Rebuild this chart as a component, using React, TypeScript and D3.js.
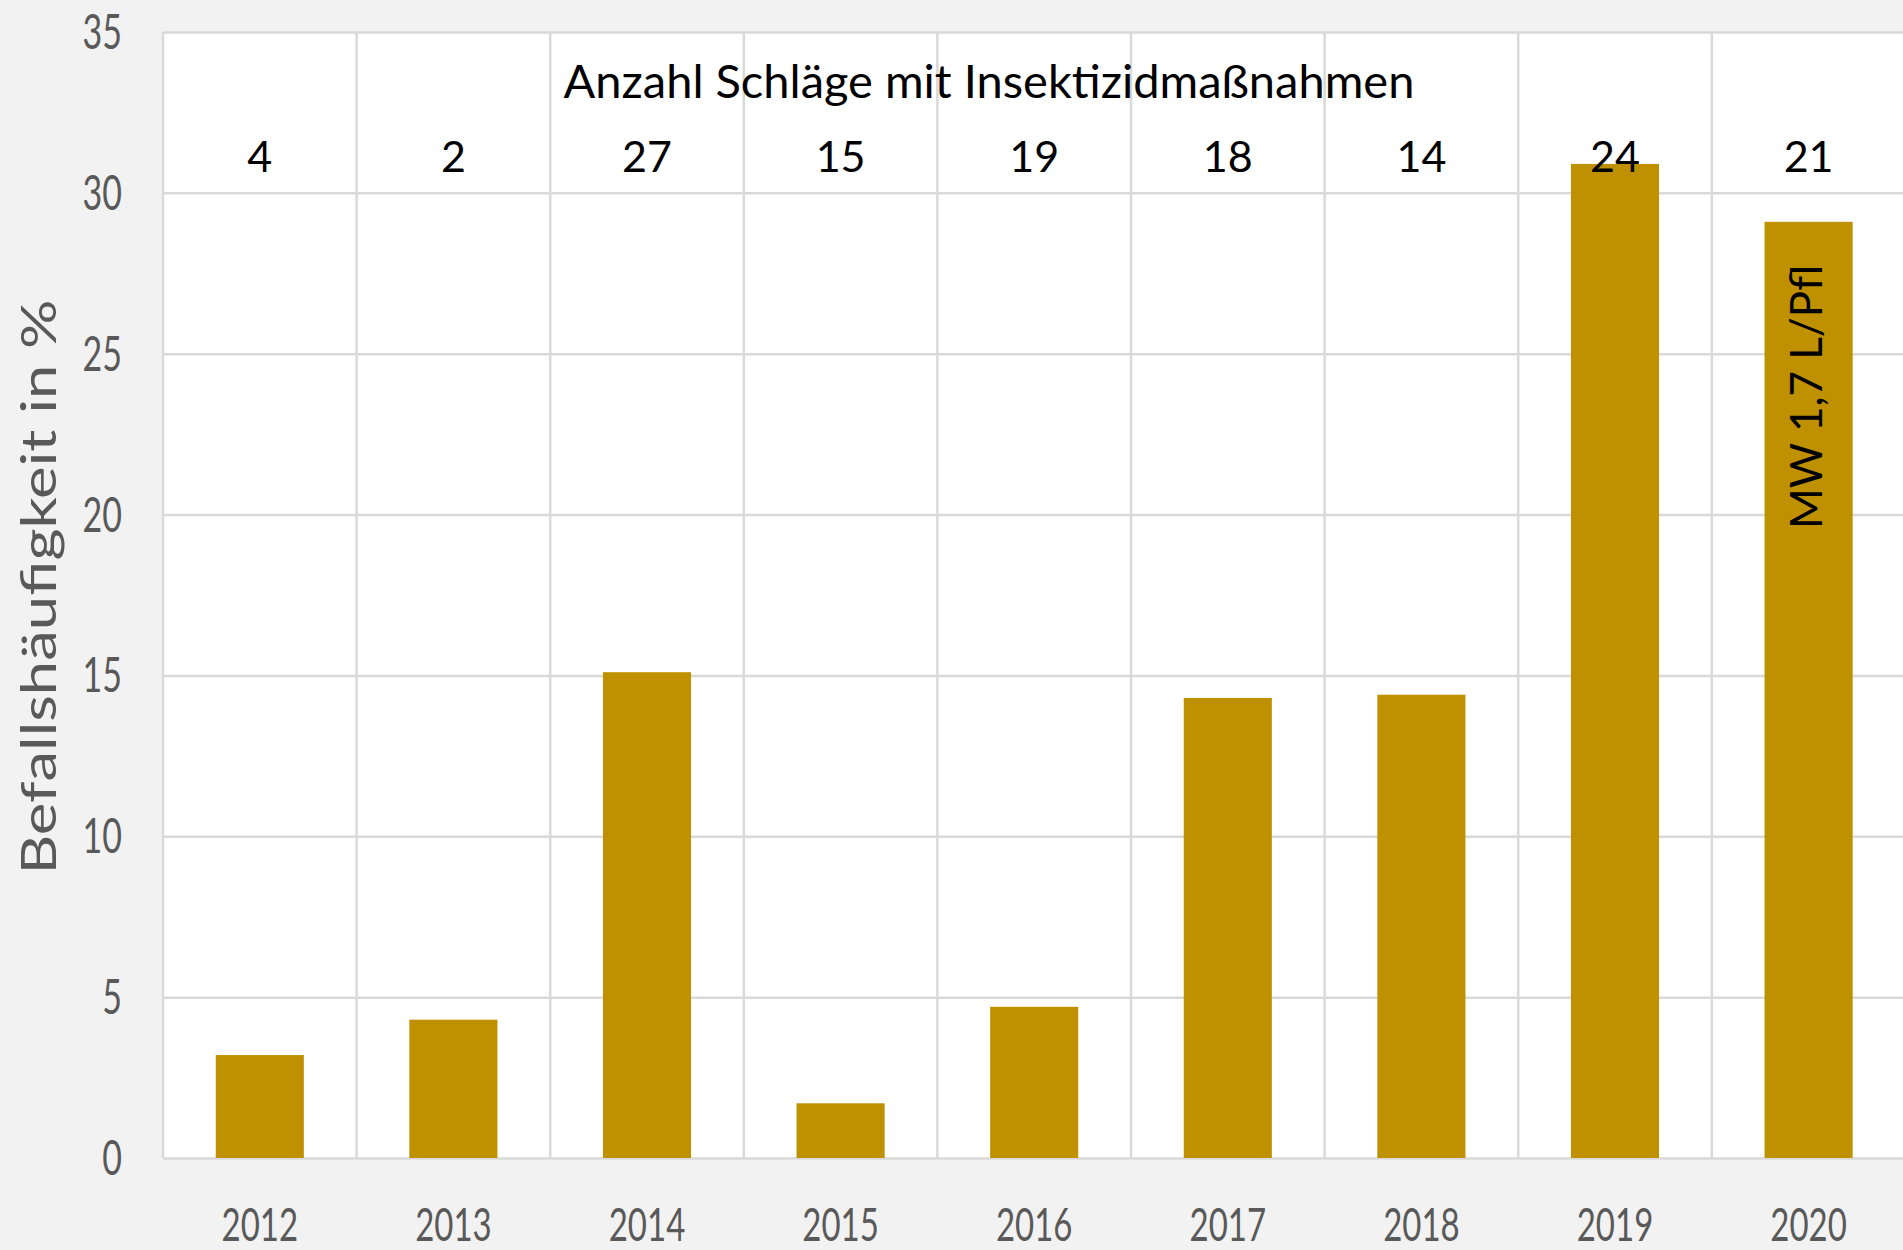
import React, { useEffect, useRef } from "react";
import * as d3 from "d3";

// Befallshäufigkeit je Jahr (in %)
const years = ["2012", "2013", "2014", "2015", "2016", "2017", "2018", "2019", "2020"];
const befall = [3.2, 4.3, 15.1, 1.7, 4.7, 14.3, 14.4, 30.9, 29.1];
// Anzahl Schläge mit Insektizidmaßnahmen
const anzahl = [4, 2, 27, 15, 19, 18, 14, 24, 21];
const yTicks = [0, 5, 10, 15, 20, 25, 30, 35];

const titleText = "Anzahl Schläge mit Insektizidmaßnahmen";
const yTitle = "Befallshäufigkeit in %";
const noteText = "MW 1,7 L/Pfl";
const noteYear = "2020";

const App = () => {
  const ref = useRef<SVGSVGElement | null>(null);

  useEffect(() => {
    const width = 1903,
      height = 1250;
    const left = 163,
      top = 32,
      bottom = 1158,
      right = 1905.4;

    const svg = d3.select(ref.current);
    svg.selectAll("*").remove();

    svg.append("rect").attr("width", width).attr("height", height).attr("fill", "#f2f2f2");
    svg
      .append("rect")
      .attr("x", left)
      .attr("y", top)
      .attr("width", right - left)
      .attr("height", bottom - top)
      .attr("fill", "#ffffff");

    const x = d3.scaleBand().domain(years).range([left, right]).paddingInner(0.545).paddingOuter(0.2725);
    const y = d3.scaleLinear().domain([0, 35]).range([bottom, top]);

    // horizontal grid
    const grid = svg
      .append("g")
      .attr("transform", `translate(${left},0)`)
      .call(
        d3
          .axisLeft(y)
          .tickValues(yTicks)
          .tickSize(-(right - left))
          .tickFormat(() => "")
      );
    grid.select(".domain").remove();
    grid.selectAll("line").attr("stroke", "#d9d9d9").attr("stroke-width", 2.5);

    // vertical grid at category boundaries
    const bounds = d3.range(years.length + 1).map((i) => x.range()[0] + i * x.step());
    svg
      .append("g")
      .selectAll("line")
      .data(bounds)
      .join("line")
      .attr("x1", (d) => d)
      .attr("x2", (d) => d)
      .attr("y1", top)
      .attr("y2", bottom)
      .attr("stroke", "#d9d9d9")
      .attr("stroke-width", 2.5);

    // bars
    svg
      .append("g")
      .selectAll("rect")
      .data(befall)
      .join("rect")
      .attr("x", (d, i) => x(years[i])!)
      .attr("y", (d) => y(d))
      .attr("width", x.bandwidth())
      .attr("height", (d) => y(0) - y(d))
      .attr("fill", "#bf9000");

    // y tick labels (stretched like the original)
    svg
      .append("g")
      .selectAll("text")
      .data(yTicks)
      .join("text")
      .attr("transform", (d) => `translate(122,${y(d)}) scale(1,1.42)`)
      .attr("y", 12)
      .attr("text-anchor", "end")
      .attr("font-family", "Lato")
      .attr("font-size", 34)
      .attr("fill", "#595959")
      .text((d) => d);

    // x tick labels
    svg
      .append("g")
      .selectAll("text")
      .data(years)
      .join("text")
      .attr("transform", (d) => `translate(${x(d)! + x.bandwidth() / 2},1241) scale(1,1.4)`)
      .attr("text-anchor", "middle")
      .attr("font-family", "Lato")
      .attr("font-size", 33)
      .attr("fill", "#595959")
      .text((d) => d);

    // y axis title
    svg
      .append("text")
      .attr("transform", "translate(56,587) rotate(-90)")
      .attr("text-anchor", "middle")
      .attr("font-family", "Lato")
      .attr("font-size", 48)
      .attr("fill", "#595959")
      .attr("textLength", 575)
      .attr("lengthAdjust", "spacingAndGlyphs")
      .text(yTitle);

    // annotation title
    svg
      .append("text")
      .attr("x", 989)
      .attr("y", 98)
      .attr("text-anchor", "middle")
      .attr("font-family", "Lato")
      .attr("font-size", 47)
      .attr("fill", "#000")
      .text(titleText);

    // counts per year
    svg
      .append("g")
      .selectAll("text")
      .data(anzahl)
      .join("text")
      .attr("x", (d, i) => x(years[i])! + x.bandwidth() / 2)
      .attr("y", 172)
      .attr("text-anchor", "middle")
      .attr("font-family", "Lato")
      .attr("font-size", 43)
      .attr("fill", "#000")
      .text((d) => d);

    // note inside the 2020 bar
    svg
      .append("text")
      .attr("transform", `translate(${x(noteYear)! + x.bandwidth() / 2 + 13},397) rotate(-90)`)
      .attr("text-anchor", "middle")
      .attr("font-family", "Lato")
      .attr("font-size", 44)
      .attr("fill", "#000")
      .text(noteText);
  }, []);

  return (
    <svg
      ref={ref}
      width={1903}
      height={1250}
      style={{ position: "absolute", left: 0, top: 0, display: "block" }}
    />
  );
};

export default App;
